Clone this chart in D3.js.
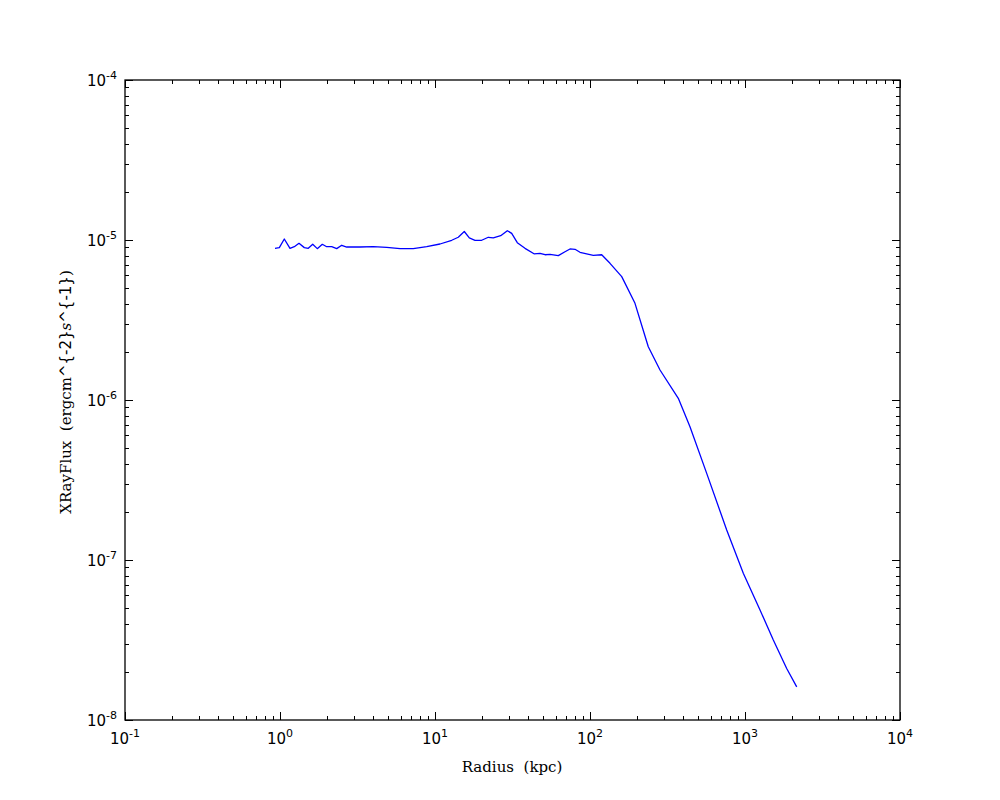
<!DOCTYPE html>
<html><head><meta charset="utf-8">
<script src="https://cdn.jsdelivr.net/npm/d3@7"></script>
<style>body{margin:0;background:#fff}</style>
</head><body>
<svg id="c" width="1000" height="800"></svg>
<script>
const radius = [0.928,0.99,1.066,1.16,1.237,1.326,1.435,1.522,1.626,1.74,1.875,2.001,2.156,2.322,2.501,2.694,3.282,4.0,4.88,5.95,7.24,8.84,10.77,12.82,14.13,15.45,16.65,18.11,20.01,22.08,23.78,26.54,29.28,31.25,33.96,38.08,43.52,47.58,51.26,55.2,62.44,68.98,74.3,80.04,86.2,105.0,119.0,134.6,160.2,195.1,237.7,282.9,371.3,441.6,566.1,762,975,1250,1523,1858,2156];
const flux = [8.87e-6,8.96e-6,1.014e-5,8.87e-6,9.08e-6,9.53e-6,8.96e-6,8.87e-6,9.4e-6,8.83e-6,9.4e-6,9.08e-6,9.08e-6,8.83e-6,9.27e-6,9.04e-6,9.04e-6,9.08e-6,8.99e-6,8.83e-6,8.83e-6,9.08e-6,9.44e-6,9.96e-6,1.04e-5,1.13e-5,1.03e-5,9.96e-6,9.96e-6,1.04e-5,1.03e-5,1.064e-5,1.143e-5,1.10e-5,9.62e-6,8.87e-6,8.2e-6,8.26e-6,8.09e-6,8.14e-6,7.98e-6,8.45e-6,8.79e-6,8.75e-6,8.38e-6,8.02e-6,8.09e-6,7.15e-6,5.9e-6,4.02e-6,2.15e-6,1.54e-6,1.025e-6,6.81e-7,3.48e-7,1.54e-7,8.26e-8,4.87e-8,3.16e-8,2.1e-8,1.61e-8];
const xTickExps = [-1,0,1,2,3,4];
const yTickExps = [-8,-7,-6,-5,-4];
const xLabel = "Radius  (kpc)";

const svg = d3.select("#c");
const L=125,R=900,T=80,B=720;
const x = d3.scaleLog().domain([1e-1,1e4]).range([L,R]);
const y = d3.scaleLog().domain([1e-8,1e-4]).range([B,T]);

const minorX=[], minorY=[];
for (let e=-1;e<4;e++) for (let k=2;k<10;k++) minorX.push(k*Math.pow(10,e));
for (let e=-8;e<-4;e++) for (let k=2;k<10;k++) minorY.push(k*Math.pow(10,e));
const majX = xTickExps.map(e=>Math.pow(10,e));
const majY = yTickExps.map(e=>Math.pow(10,e));

const g = svg.append("g").attr("stroke","#000").attr("stroke-width",1);
function vt(vals,len){
  vals.forEach(v=>{const px=Math.round(x(v))+0.5;
    g.append("line").attr("x1",px).attr("x2",px).attr("y1",B).attr("y2",B-len);
    g.append("line").attr("x1",px).attr("x2",px).attr("y1",T).attr("y2",T+len);});
}
function ht(vals,len){
  vals.forEach(v=>{const py=Math.round(y(v))+0.5;
    g.append("line").attr("y1",py).attr("y2",py).attr("x1",L).attr("x2",L+len);
    g.append("line").attr("y1",py).attr("y2",py).attr("x1",R).attr("x2",R-len);});
}
vt(minorX,4); vt(majX,8); ht(minorY,4); ht(majY,8);

// curve
const line = d3.line().x((d,i)=>x(radius[i])).y((d,i)=>y(flux[i]));
svg.append("path").datum(radius).attr("d",line).attr("fill","none").attr("stroke","#0000ff").attr("stroke-width",1.3).attr("stroke-linejoin","round");

svg.append("rect").attr("x",L).attr("y",T).attr("width",R-L).attr("height",B-T).attr("fill","none").attr("stroke","#000").attr("stroke-width",1.3);

// tick labels
const font = "DejaVu Sans, sans-serif";
xTickExps.forEach(e=>{
  const t = svg.append("text").attr("x",x(Math.pow(10,e))).attr("y",744).attr("text-anchor","middle").attr("font-family",font).attr("font-size",15);
  t.append("tspan").text("10");
  t.append("tspan").attr("dy",-7).attr("font-size",11).text(String(e));
});
yTickExps.forEach(e=>{
  const t = svg.append("text").attr("x",117).attr("y",y(Math.pow(10,e))+6).attr("text-anchor","end").attr("font-family",font).attr("font-size",15);
  t.append("tspan").text("10");
  t.append("tspan").attr("dy",-7).attr("font-size",11).text(String(e));
});

// axis titles
const serif = "DejaVu Serif, Liberation Serif, serif";
svg.append("text").attr("x",512).attr("y",772).attr("text-anchor","middle").attr("font-family",serif).attr("font-size",15).attr("xml:space","preserve").text(xLabel);
const yt = svg.append("text").attr("transform","translate(71,392) rotate(-90)").attr("text-anchor","middle").attr("font-family",serif).attr("font-size",15).attr("xml:space","preserve");
yt.append("tspan").text("XRayFlux  (ergcm");
yt.append("tspan").attr("font-family",font).text("^{-2}");
yt.append("tspan").attr("font-style","italic").text("s");
yt.append("tspan").attr("font-family",font).text("^{-1}");
yt.append("tspan").text(")");
</script>
</body></html>
